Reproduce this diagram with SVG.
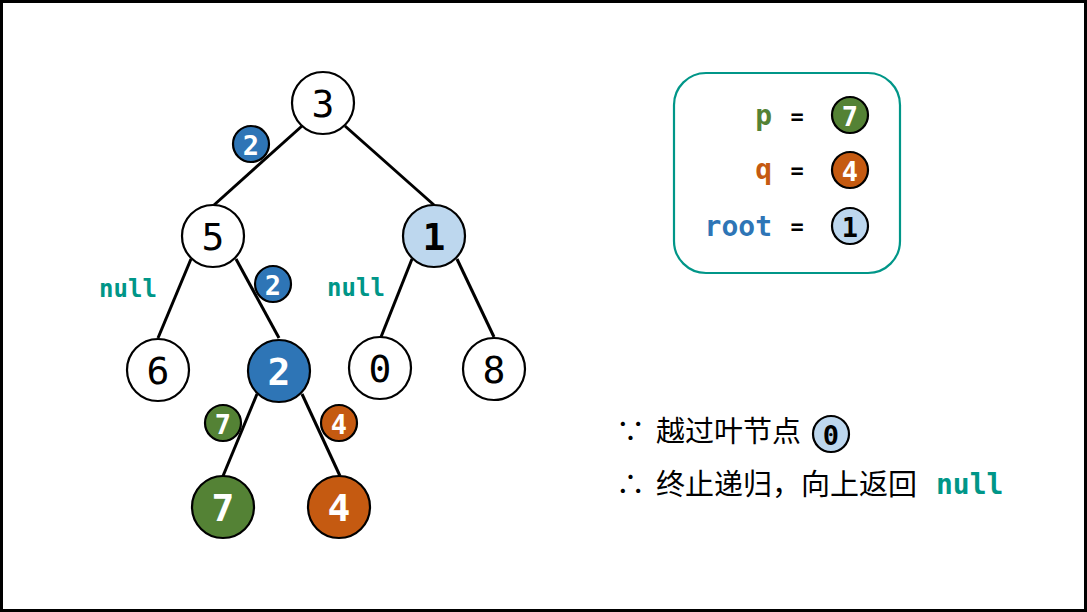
<svg xmlns="http://www.w3.org/2000/svg" width="1087" height="612" viewBox="0 0 1087 612">
<style>
.n{stroke:#000;stroke-width:2.2}
.w{fill:#fff}
.lb{fill:#bdd7ee}
.bl{fill:#2e75b6}
.gr{fill:#548235}
.or{fill:#c55a11}
.t{font-family:"DejaVu Sans Mono",monospace;font-size:38px;text-anchor:middle;dominant-baseline:central}
.tb{font-family:"DejaVu Sans Mono",monospace;font-size:38px;font-weight:bold;text-anchor:middle;dominant-baseline:central}
.s{font-family:"DejaVu Sans Mono",monospace;font-size:27px;font-weight:bold;fill:#fff;text-anchor:middle;dominant-baseline:central}
.nl{font-family:"DejaVu Sans Mono",monospace;font-weight:bold;fill:#009688}
.cn{font-family:"Noto Sans CJK SC",sans-serif;font-size:29px}
.e{stroke:#000;stroke-width:3;fill:none}
</style>
<rect x="1.5" y="1.5" width="1084" height="609" fill="#fff" stroke="#000" stroke-width="3"/>
<g id="connectors">
<line class="e" x1="302" y1="126" x2="214" y2="205"/>
<line class="e" x1="345" y1="126" x2="434" y2="205"/>
<line class="e" x1="191" y1="259" x2="158" y2="338"/>
<line class="e" x1="236" y1="259" x2="279" y2="338"/>
<line class="e" x1="412" y1="259" x2="381" y2="337"/>
<line class="e" x1="457" y1="259" x2="494" y2="337"/>
<line class="e" x1="257" y1="394" x2="223" y2="476"/>
<line class="e" x1="302" y1="394" x2="340" y2="476"/>
</g>
<g id="node-3"><circle class="n w" cx="323" cy="103" r="31"/><text class="t" x="323" y="104">3</text></g>
<g id="node-5"><circle class="n w" cx="213" cy="236" r="31"/><text class="t" x="213" y="237">5</text></g>
<g id="node-1"><circle class="n lb" cx="434" cy="236" r="31"/><text class="tb" x="434" y="237">1</text></g>
<g id="node-6"><circle class="n w" cx="158" cy="370" r="31"/><text class="t" x="158" y="371">6</text></g>
<g id="node-2"><circle class="n bl" cx="279" cy="371" r="31"/><text class="tb" x="279" y="372" fill="#fff">2</text></g>
<g id="node-0"><circle class="n w" cx="380" cy="368" r="31"/><text class="t" x="380" y="369">0</text></g>
<g id="node-8"><circle class="n w" cx="494" cy="369" r="31"/><text class="t" x="494" y="370">8</text></g>
<g id="node-7"><circle class="n gr" cx="223" cy="507" r="31"/><text class="tb" x="223" y="508" fill="#fff">7</text></g>
<g id="node-4"><circle class="n or" cx="339" cy="507" r="31"/><text class="tb" x="339" y="508" fill="#fff">4</text></g>
<g id="badge-2a"><circle class="n bl" cx="251" cy="144" r="18"/><text class="s" x="251" y="145">2</text></g>
<g id="badge-2b"><circle class="n bl" cx="273" cy="284" r="18"/><text class="s" x="273" y="285">2</text></g>
<g id="badge-7"><circle class="n gr" cx="223" cy="423" r="18"/><text class="s" x="223" y="424">7</text></g>
<g id="badge-4"><circle class="n or" cx="339" cy="423" r="18"/><text class="s" x="339" y="424">4</text></g>
<g id="null-labels">
<text class="nl" x="128" y="297" font-size="24" text-anchor="middle">null</text>
<text class="nl" x="356" y="296" font-size="24" text-anchor="middle">null</text>
</g>
<g id="legend">
<rect x="674" y="73" width="226" height="200" rx="32" fill="#fff" stroke="#009688" stroke-width="2.2"/>
<text class="nl" x="772" y="125" font-size="28" text-anchor="end" style="fill:#548235">p</text>
<text class="nl" x="772" y="179" font-size="28" text-anchor="end" style="fill:#c55a11">q</text>
<text class="nl" x="772" y="236" font-size="28" text-anchor="end" style="fill:#2e75b6">root</text>
<text class="nl" x="797" y="124" font-size="22" text-anchor="middle" style="fill:#000">=</text>
<text class="nl" x="797" y="178" font-size="22" text-anchor="middle" style="fill:#000">=</text>
<text class="nl" x="797" y="234" font-size="22" text-anchor="middle" style="fill:#000">=</text>
<circle class="n gr" cx="850" cy="115" r="18"/><text class="s" x="850" y="116">7</text>
<circle class="n or" cx="850" cy="170" r="18"/><text class="s" x="850" y="171">4</text>
<circle class="n lb" cx="850" cy="226" r="18"/><text class="s" x="850" y="227" style="fill:#000">1</text>
</g>
<g id="notes">
<text class="cn" x="616" y="442">∵</text>
<text class="cn" x="656" y="442">越过叶节点</text>
<circle class="n lb" cx="831" cy="434" r="18"/><text class="s" x="831" y="435" style="fill:#000">0</text>
<text class="cn" x="616" y="495">∴</text>
<text class="cn" x="656" y="495">终止递归，向上返回</text>
<text class="nl" x="936" y="494" font-size="28">null</text>
</g>
</svg>
